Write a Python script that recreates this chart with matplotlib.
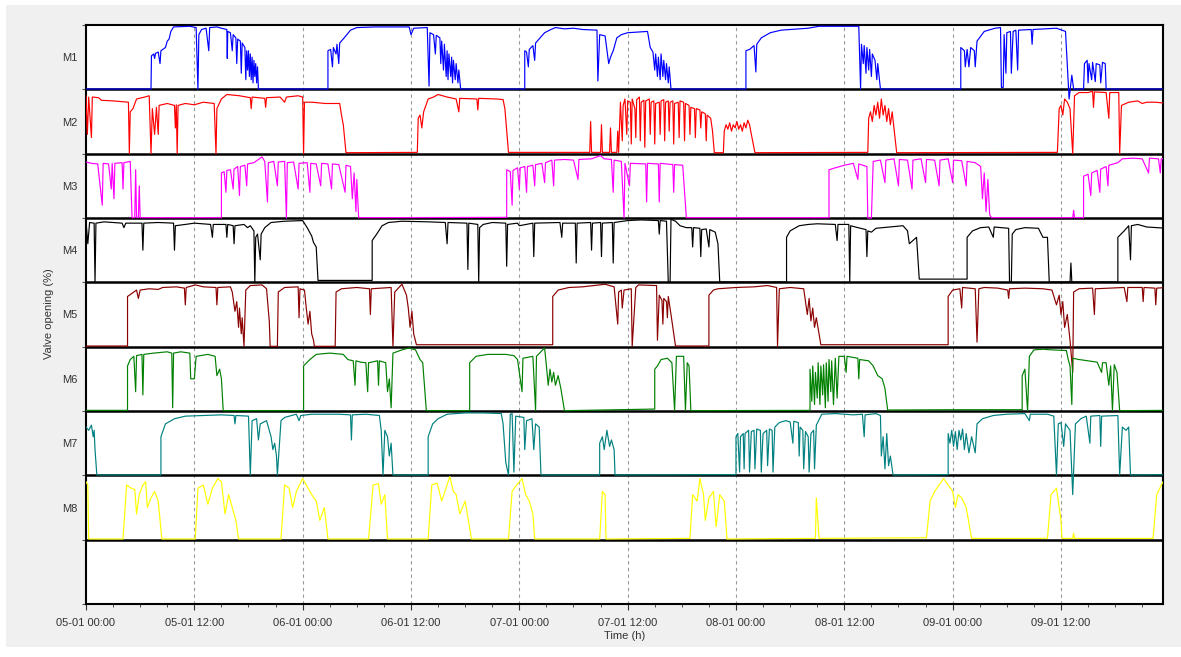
import matplotlib
matplotlib.use("Agg")
import matplotlib.pyplot as plt
from matplotlib.patches import Rectangle
from matplotlib.ticker import MultipleLocator, FixedLocator
import numpy as np

plt.rcParams['font.family'] = ['Liberation Sans', 'DejaVu Sans']

series_names = ["M1", "M2", "M3", "M4", "M5", "M6", "M7", "M8"]
series_colors = ["#0000ff", "#ff0000", "#ff00ff", "#000000", "#8b0000", "#008000", "#008080", "#ffff00"]
tick_labels = ["05-01 00:00", "05-01 12:00", "06-01 00:00", "06-01 12:00", "07-01 00:00",
               "07-01 12:00", "08-01 00:00", "08-01 12:00", "09-01 00:00", "09-01 12:00"]
tick_hours = [0, 12, 24, 36, 48, 60, 72, 84, 96, 108]

# valve opening (%) per valve: (hour, value) pairs
m1 = [(0,0.5),(7.2,0.5),(7.25,52),(7.5,55),(7.6,48),(7.7,56),(8.0,58),(8.2,40),(8.3,60),(8.8,65),(9.0,75),(9.2,78),(9.4,90),(9.7,97),(11.5,98),(12.2,96),(12.4,0),(12.5,85),(12.8,93),(13.3,95),(13.6,60),(13.7,96),(14.5,97),(15.0,95),(15.6,93),(15.65,48),(15.7,90),(16.0,88),(16.2,60),(16.3,85),(16.6,80),(16.7,40),(16.8,78),(17.1,75),(17.2,25),(17.3,72),(17.6,65),(17.7,15),(17.8,60),(17.9,30),(18.0,60),(18.1,20),(18.2,55),(18.3,15),(18.4,50),(18.5,10),(18.6,45),(18.7,20),(18.8,40),(18.9,10),(19.0,35),(19.1,0.5),
      (26.8,0.5),(26.8,60),(27.1,62),(27.3,35),(27.4,65),(27.7,55),(27.8,70),(28.0,40),(28.1,72),(28.6,80),(29.3,92),(30.0,96),(32,97),(35.8,97),(36.0,85),(36.3,95),(37.8,96),(38.0,5),(38.1,88),(38.5,85),(38.7,55),(38.8,84),(39.2,80),(39.3,40),(39.4,75),(39.6,30),(39.7,70),(39.9,20),(40.0,60),(40.1,15),(40.2,55),(40.4,20),(40.5,50),(40.6,10),(40.7,45),(40.9,15),(41.0,40),(41.2,10),(41.3,30),(41.5,0.5),
      (48.6,0.5),(48.6,60),(48.8,58),(49.0,35),(49.1,62),(49.5,68),(49.7,45),(49.8,72),(50.3,80),(50.8,88),(51.5,93),(52,96),(53,94),(54,95),(55,93),(56.6,92),(56.7,13),(56.9,85),(57.5,83),(57.9,40),(58.1,50),(58.4,60),(58.8,80),(59.3,85),(60,88),(62.2,90),(62.5,65),(62.8,58),(63.0,30),(63.1,55),(63.3,20),(63.4,50),(63.6,15),(63.7,55),(63.9,20),(64.0,45),(64.2,15),(64.3,40),(64.5,10),(64.6,35),(64.8,0.5),
      (73.1,0.5),(73.1,60),(73.5,62),(74.0,68),(74.2,27),(74.3,70),(74.8,80),(75.8,88),(77,92),(80,95),(81.2,98),(85.6,98),(85.8,0.5),(85.9,70),(86.1,40),(86.2,68),(86.4,25),(86.5,65),(86.7,30),(86.8,62),(87.0,20),(87.1,55),(87.4,45),(87.6,15),(87.7,40),(88.0,0.5),
      (96.9,0.5),(96.9,65),(97.3,60),(97.4,35),(97.6,62),(97.8,35),(98.0,65),(98.4,60),(98.5,35),(98.7,75),(99.5,90),(100.7,95),(101.3,96),(101.4,3),(101.6,3),(101.7,85),(101.9,25),(102.0,88),(102.4,90),(102.5,25),(102.7,90),(103.0,92),(103.2,30),(103.3,92),(104.7,93),(104.8,70),(104.9,93),(107.5,95),(108.5,90),(108.9,-15),(109.2,22),(109.4,0.5),(110.5,0.5),(110.6,40),(110.9,45),(111.0,10),(111.1,40),(111.4,15),(111.5,42),(111.8,12),(111.9,40),(112.3,38),(112.4,10),(112.6,42),(112.9,40),(113.0,0.5),(119.8,0.5)]

m2 = [(0,90),(0.15,30),(0.3,88),(0.6,25),(0.7,88),(1.4,87),(1.7,83),(3,82),(4.7,80),(4.8,0),(4.9,65),(5.2,70),(5.6,85),(6.5,88),(7.0,90),(7.2,0),(7.35,70),(7.6,30),(7.8,72),(8.0,30),(8.1,75),(9.0,78),(9.8,75),(9.9,40),(10.0,76),(10.1,0),(10.2,75),(11.0,78),(12.0,76),(13.0,80),(14.2,78),(14.4,0),(14.5,70),(15.0,85),(15.6,92),(17,90),(18.2,87),(18.3,70),(18.4,88),(19.8,86),(19.9,72),(20,87),(21.5,88),(22,80),(22.2,88),(23.5,90),(24.0,88),(24.1,0),(24.2,80),(25,80),(26.5,78),(28.1,78),(28.3,60),(28.5,45),(28.8,1.5),
      (36.7,2),(36.8,55),(37.0,60),(37.2,40),(37.4,65),(37.9,85),(38.5,88),(39,92),(40,88),(41,85),(41.3,65),(41.4,86),(43.3,85),(43.4,68),(43.5,86),(45.5,85),(46.2,84),(46.4,70),(46.8,2),
      (55.8,2),(55.9,50),(56.0,2),(57.0,2),(57.1,45),(57.2,2),(58.0,2),(58.1,40),(58.2,2),(58.8,2),(58.9,35),(59.0,2),(59.2,80),(59.4,20),
      (59.5,75),(59.7,85),(59.9,30),(60.0,82),(60.3,80),(60.4,15),(60.5,85),(60.8,70),(60.9,25),(61.0,84),(61.3,88),(61.4,20),(61.5,80),(61.8,83),(61.9,10),(62.0,82),(62.4,85),(62.5,30),(62.6,80),(62.9,82),(63.0,15),(63.1,78),(63.5,80),(63.6,30),(63.7,82),(64.0,84),(64.1,20),(64.2,80),(64.5,82),(64.6,35),(64.7,80),(65.0,82),(65.1,15),(65.2,78),(65.6,80),(65.7,25),(65.8,82),(66.2,80),(66.3,20),(66.4,78),(66.8,75),(66.9,30),(67.0,72),(67.4,70),(67.5,25),(67.6,70),(68.0,68),(68.1,40),(68.2,65),(68.6,62),(68.7,20),(68.8,60),(69.2,55),(69.4,35),(69.6,1.5),
      (70.6,1.5),(70.7,35),(70.9,45),(71.1,38),(71.3,48),(71.5,35),(71.7,45),(71.9,40),(72.1,50),(72.3,38),(72.5,45),(72.7,35),(72.9,48),(73.1,40),(73.3,52),(73.5,45),(73.7,30),(74.1,1.5),
      (86.6,2),(86.7,55),(86.9,65),(87.1,50),(87.3,75),(87.5,60),(87.7,80),(87.9,55),(88.1,85),(88.3,60),(88.5,75),(88.7,50),(88.9,70),(89.1,45),(89.3,65),(89.5,40),(89.8,1.5),
      (107.6,2),(107.8,70),(108.0,75),(108.2,60),(108.4,85),(108.7,80),(109.0,70),(109.3,0),(109.5,90),(110,95),(111,95),(111.5,97),(111.6,72),(111.7,96),(113,95),(113.3,55),(113.4,95),(114.4,95),(114.5,0),(114.7,75),(115.5,80),(116.5,82),(117,78),(117.5,80),(118.5,80),(119.8,78)]

m3 = [(0,87),(0.6,85),(1.3,84),(1.8,20),(1.9,85),(2.5,84),(2.8,45),(2.9,85),(3.1,30),(3.2,85),(4.0,86),(4.1,45),(4.2,86),(4.9,88),(5.1,0.5),(5.4,0.5),(5.5,75),(5.6,0.5),(5.8,0.5),(5.9,50),(6.0,0.5),
      (15.0,0.5),(15.0,70),(15.3,72),(15.5,40),(15.6,74),(16.0,75),(16.3,45),(16.4,76),(16.8,80),(17.0,35),(17.1,80),(17.6,82),(17.8,50),(17.9,84),(18.6,86),(19.5,95),(19.8,88),(20.1,25),(20.2,86),(20.8,88),(21.2,50),(21.3,87),(22.0,88),(22.2,0),(22.3,86),(23.0,87),(23.5,45),(23.6,85),(24.5,86),(24.8,40),(24.9,85),(25.5,84),(26.0,50),(26.1,85),(26.8,84),(27.2,45),(27.3,84),(28.0,83),(28.7,40),(28.8,82),(29.3,80),(29.5,30),(29.7,70),(29.9,10),(30.0,60),(30.2,0.5),
      (46.6,1),(46.6,75),(47.0,72),(47.2,20),(47.3,74),(47.8,78),(48.0,45),(48.1,78),(48.6,80),(48.8,40),(48.9,80),(49.5,82),(49.7,50),(49.8,83),(50.5,85),(50.8,55),(50.9,86),(51.6,90),(51.8,50),(51.9,90),(53,91),(54,90),(54.5,60),(54.6,91),(56,92),(57.0,97),(57.4,92),(58.2,91),(58.4,40),(58.5,90),(59.3,88),(59.6,0),(59.7,85),(60.2,50),(60.3,85),(62.0,84),(62.1,25),(62.2,85),(63.4,84),(63.5,25),(63.6,85),(65.0,83),(65.1,40),(65.2,83),(66.1,82),(66.3,40),(66.5,0.5),
      (82.3,0.5),(82.3,75),(83,78),(84,82),(85,85),(85.5,60),(85.6,84),(86.5,80),(86.6,0),(87.0,0),(87.2,88),(88,90),(88.5,55),(88.6,90),(89.5,92),(90,50),(90.1,91),(91,90),(91.5,45),(91.6,90),(92.5,92),(93,55),(93.1,91),(94,90),(94.5,50),(94.6,90),(95.5,92),(96,55),(96.1,90),(97,89),(97.5,50),(97.6,88),(98.5,86),(99.1,80),(99.3,30),(99.5,70),(99.7,10),(99.9,60),(100.1,5),(100.3,0.5),
      (109.3,0.5),(109.4,12),(109.5,0.5),(110.5,0.5),(110.5,65),(111,68),(111.3,35),(111.4,70),(112,74),(112.3,40),(112.4,76),(113,80),(113.2,50),(113.3,82),(114.3,86),(114.8,92),(116,93),(117,92),(117.7,70),(117.8,93),(118.8,92),(119.0,70),(119.1,92),(119.8,93)]

m4 = [(0,95),(0.2,60),(0.4,93),(0.9,92),(1.0,0),(1.1,92),(2,94),(3,93),(4.0,92),(4.2,85),(4.4,92),(6.2,92),(6.3,50),(6.4,92),(8,93),(9.7,92),(9.8,50),(9.9,88),(11,90),(12,92),(13.8,90),(14.0,70),(14.1,90),(15.5,90),(15.6,70),(15.7,90),(16.3,88),(16.4,60),(16.5,88),(17.5,90),(17.9,85),(18.2,88),(18.6,80),(18.7,0),(18.8,70),(19.0,75),(19.3,35),(19.4,75),(19.8,85),(20.5,93),(22,95),(24.0,96),(24.5,85),(25.0,72),(25.2,62),(25.5,55),(25.7,3),
      (31.7,3),(31.7,65),(32.2,75),(32.8,88),(33.5,93),(35,95),(38,94),(39.8,93),(40.0,60),(40.1,93),(42.2,92),(42.3,20),(42.4,92),(43.4,90),(43.5,0),(43.6,85),(44.0,90),(45,93),(46.5,92),(46.6,25),(46.7,90),(47.8,92),(48,88),(49.5,92),(49.6,40),(49.7,92),(52.5,93),(52.7,70),(52.8,92),(54.2,92),(54.3,30),(54.4,92),(55.9,93),(56.0,50),(56.1,92),(57.0,93),(57.1,40),(57.2,92),(58.3,93),(58.4,30),(58.5,93),(60,96),(61.5,97),(63.4,96),(63.5,75),(63.6,96),(64.3,95),(64.5,0),(64.7,0),(64.8,98),(65.3,95),(65.8,88),(66.5,85),(67.1,85),(67.2,55),(67.3,85),(68.0,84),(68.1,40),(68.2,82),(68.7,83),(69.0,55),(69.1,82),(69.7,78),(70.0,60),(70.2,0.5),
      (77.6,0.5),(77.6,70),(78,80),(79,88),(80,90),(81,91),(83,90),(83.2,65),(83.3,90),(84.5,90),(84.6,0),(84.7,88),(85.5,85),(86.4,82),(86.5,40),(86.6,80),(87,78),(87.5,84),(89,86),(90.5,88),(91.0,80),(91.2,60),(92.0,70),(92.3,5),
      (97.6,5),(97.6,70),(98.2,80),(99.1,85),(100,86),(100.5,70),(100.6,86),(102.2,84),(102.3,0),(102.5,0),(102.6,75),(103.0,82),(104,85),(105.5,84),(106.0,70),(106.5,70),(106.7,0.5),(109.0,0.5),(109.1,30),(109.2,0.5),
      (114.3,0.5),(114.3,70),(115.0,80),(115.5,88),(115.7,35),(115.8,88),(116.5,90),(117.5,86),(119.8,84)]

m5 = [(0,1),(4.6,1),(4.6,78),(5.0,82),(5.6,88),(5.8,75),(6.0,88),(7,90),(8,89),(8.5,92),(10,93),(10.9,91),(11.0,65),(11.1,92),(12.1,96),(13,93),(14.4,92),(14.5,65),(14.6,92),(16.0,93),(16.2,85),(16.5,55),(16.7,70),(16.9,30),(17.0,60),(17.2,20),(17.3,45),(17.5,0.5),(17.7,88),(18.2,95),(19.5,96),(20.0,90),(20.3,40),(20.4,0.5),
      (21.2,0.5),(21.3,85),(22,92),(23.5,93),(23.6,45),(23.7,90),(24.2,88),(24.4,60),(24.6,35),(24.8,55),(25.0,20),(25.2,10),(25.3,0.5),
      (27.6,0.5),(27.7,85),(28.3,90),(30,92),(31.4,90),(31.5,50),(31.6,90),(33.8,92),(34.0,0.5),(34.2,85),(35.0,97),(35.5,80),(35.7,60),(35.9,30),(36.1,55),(36.3,20),(36.6,3),
      (51.7,3),(51.7,78),(52.3,88),(53.5,92),(55,93),(57.5,97),(58.5,93),(58.9,35),(59.0,85),(59.3,88),(59.4,60),(59.6,88),(60.4,90),(60.5,0.5),(60.9,92),(61.2,96),(63.2,95),(63.3,10),(63.5,80),(63.8,72),(63.9,35),(64.0,75),(64.3,70),(64.4,45),(64.5,78),(64.8,50),(65.0,30),(65.3,1),
      (69.0,1),(69.0,80),(69.5,88),(70,90),(72,92),(74,93),(75.5,95),(76.5,92),(76.6,0.5),(76.8,90),(78,92),(79.5,90),(79.7,70),(79.9,50),(80.1,75),(80.3,40),(80.5,60),(80.7,30),(80.9,45),(81.2,20),(81.4,3),
      (95.5,3),(95.5,78),(96.0,88),(96.8,90),(97.0,60),(97.1,92),(98.5,90),(98.7,7),(98.9,90),(99.5,92),(101,91),(102.1,88),(102.2,75),(102.3,90),(104,91),(106,90),(107.0,88),(107.5,65),(107.8,80),(108.0,50),(108.2,70),(108.4,30),(108.7,50),(109.0,10),(109.3,-40),(109.4,85),(110,90),(111.5,91),(111.7,50),(111.8,90),(115,92),(115.3,70),(115.4,92),(117.0,92),(117.1,70),(117.2,92),(118.4,91),(118.5,65),(118.6,91),(119.8,92)]

m6 = [(0,1),(4.6,1),(4.6,70),(4.9,80),(5.3,85),(5.5,30),(5.6,86),(6.2,88),(6.3,25),(6.4,88),(7.5,90),(9.0,92),(9.5,90),(9.6,5),(9.7,90),(10.5,92),(11.5,90),(11.6,50),(12.0,50),(12.2,85),(13.5,88),(14.3,85),(14.5,55),(14.8,65),(15.0,50),(15.2,0.5),
      (24.1,0.5),(24.1,70),(24.8,80),(25.5,88),(27,90),(28.5,88),(29.0,80),(29.6,78),(29.8,40),(29.9,78),(30.4,76),(31.0,75),(31.2,30),(31.3,75),(32.3,78),(32.4,40),(32.5,78),(33.2,75),(33.4,30),(33.6,50),(33.8,5),(34.0,90),(35,95),(35.8,98),(36.5,95),(37.0,80),(37.3,75),(37.7,0.5),
      (42.5,0.5),(42.5,75),(43.2,85),(44.5,88),(46.5,88),(47.4,86),(47.8,80),(48.3,30),(48.4,82),(49.5,85),(49.8,0.5),(49.9,85),(50.8,98),(51.0,70),(51.2,40),(51.4,65),(51.6,45),(51.8,60),(52.0,40),(52.3,55),(52.6,35),(53.0,0.5),(59,2),
      (63.0,3),(63.0,65),(63.3,70),(63.7,80),(64.4,82),(64.9,75),(65.2,0.5),(65.4,85),(66.2,85),(66.4,0.5),(66.6,75),(66.8,70),(67.0,0.5),
      (80.2,1),(80.2,65),(80.4,15),(80.5,70),(80.7,10),(80.8,60),(81.0,20),(81.1,75),(81.3,10),(81.4,70),(81.6,25),(81.7,72),(81.9,5),(82.0,75),(82.2,15),(82.3,80),(82.5,30),(82.6,78),(82.8,10),(83.0,82),(83.2,20),(83.4,85),(84.0,85),(84.2,60),(84.3,85),(85.5,82),(85.6,50),(85.7,80),(86.7,78),(87.2,70),(87.7,55),(88.2,50),(88.5,35),(88.8,1.5),(96,2),
      (103.7,2),(103.7,55),(104.0,65),(104.3,0.5),(104.5,85),(105.0,95),(106,96),(107,95),(108.6,94),(108.8,80),(109.0,70),(109.2,10),(109.3,82),(110,80),(111,78),(112,76),(112.5,60),(112.6,75),(113.0,75),(113.3,40),(113.5,70),(113.7,0.5),(113.9,72),(114.2,60),(114.5,0.5),(119.8,1)]

m7 = [(0,75),(0.3,70),(0.6,78),(0.8,60),(0.9,70),(1.0,40),(1.2,0.5),
      (8.3,0.5),(8.3,60),(8.8,80),(9.8,88),(11,92),(13,93),(15,94),(16.4,93),(16.5,80),(16.6,93),(18.0,92),(18.2,0.5),(18.4,85),(18.9,88),(19.1,55),(19.3,80),(20.0,85),(20.5,60),(20.7,40),(20.9,50),(21.1,30),(21.2,0.5),(21.6,85),(22.0,90),(23.3,95),(23.6,85),(23.8,93),(25,95),(28,95),(29.3,94),(29.4,55),(29.5,94),(31,95),(32.5,93),(32.7,70),(32.9,0.5),(33.1,70),(33.4,60),(33.6,30),(33.8,50),(34.0,0.5),
      (37.9,0.5),(37.9,60),(38.4,80),(39.0,88),(40,95),(42,97),(44,97),(46.0,96),(46.2,80),(46.5,20),(46.8,0.5),(47.0,95),(47.2,96),(47.4,5),(47.6,92),(48.5,90),(48.6,40),(48.8,85),(49.4,88),(49.6,40),(49.8,80),(50.2,75),(50.4,0.5),
      (56.9,0.5),(56.9,50),(57.2,60),(57.4,40),(57.7,70),(58.0,45),(58.2,55),(58.5,40),(58.6,0.5),
      (72.0,1),(72.0,60),(72.2,65),(72.4,5),(72.5,60),(72.8,65),(72.9,10),(73.0,65),(73.4,70),(73.5,5),(73.7,68),(74.0,70),(74.1,10),(74.3,72),(74.7,70),(74.8,5),(75.0,65),(75.4,70),(75.5,15),(75.7,72),(76.0,70),(76.1,5),(76.3,75),(76.8,82),(77.5,85),(78.0,83),(78.3,50),(78.4,84),(78.9,82),(79.0,30),(79.1,75),(79.4,70),(79.5,10),(79.7,68),(80.0,60),(80.1,5),(80.3,65),(80.6,70),(80.7,10),(80.9,78),(81.5,95),(83,96),(84,95),(85,94),(86.0,95),(86.2,60),(86.3,94),(87.5,96),(88.0,93),(88.1,30),(88.3,60),(88.5,10),(88.7,65),(88.9,15),(89.1,30),(89.4,0.5),
      (95.5,1),(95.5,65),(95.7,50),(95.9,70),(96.1,45),(96.3,68),(96.5,40),(96.7,70),(96.9,55),(97.1,72),(97.3,40),(97.5,65),(97.8,35),(98.1,60),(98.5,35),(98.7,80),(99.3,88),(100.5,93),(102,95),(104,96),(104.5,85),(104.6,95),(106.5,95),(107.2,92),(107.5,0.5),(107.7,80),(108.0,82),(108.3,45),(108.5,80),(109.0,70),(109.3,-30),(109.6,80),(110.2,88),(110.8,92),(111.2,50),(111.3,92),(112.3,93),(112.4,45),(112.5,92),(114.3,93),(114.5,0.5),(114.8,75),(115.2,70),(115.5,75),(115.7,0.5),(119.8,1)]

m8 = [(0,90),(0.2,85),(0.3,1),(4.1,1),(4.5,85),(4.8,82),(5.0,80),(5.4,78),(5.6,40),(5.9,70),(6.3,85),(6.6,90),(6.8,50),(7.2,65),(7.6,75),(8.0,60),(8.4,1),
      (12.1,1),(12.4,80),(13.0,85),(13.5,55),(14.0,80),(14.6,95),(15.0,90),(15.4,40),(15.8,70),(16.2,50),(16.6,30),(16.9,1),
      (21.6,1),(22.0,85),(22.5,80),(22.9,50),(23.3,75),(24.0,95),(24.6,80),(25.0,70),(25.5,60),(25.9,30),(26.4,50),(26.8,1),
      (31.3,1),(31.8,85),(32.4,87),(32.7,55),(33.1,70),(33.4,1),
      (37.9,1),(38.3,85),(38.9,88),(39.4,60),(40.3,98),(40.7,75),(41.0,70),(41.4,40),(42.0,60),(42.7,1),
      (46.8,1),(47.2,75),(47.7,85),(48.3,95),(48.7,70),(49.1,60),(49.5,40),(49.7,1),
      (56.9,1),(57.2,75),(57.5,70),(57.6,1),
      (66.9,2),(67.2,70),(67.7,60),(68.0,95),(68.4,70),(68.6,30),(69.0,65),(69.5,75),(69.8,20),(70.2,70),(70.7,60),(71.0,1),
      (80.8,2),(80.9,65),(81.2,2),
      (93.1,3),(93.5,60),(94.0,75),(94.5,85),(95.0,95),(95.5,85),(96.0,75),(96.3,50),(96.6,70),(97.0,65),(97.5,50),(98.1,2),
      (106.5,2),(106.9,70),(107.5,80),(108.0,30),(108.1,2),(109.3,2),(109.4,10),(109.5,2),(118.2,2),(118.6,70),(119.3,90),(119.8,95)]

all_series = [m1, m2, m3, m4, m5, m6, m7, m8]

W, H = 1181, 657
fig = plt.figure(figsize=(W / 100, H / 100), dpi=100)
fig.patch.set_facecolor("white")
fig.patches.append(Rectangle((6 / W, 1 - 647 / H), 1 - 6 / W, (647 - 5) / H,
                             transform=fig.transFigure, facecolor="#f0f0f0",
                             edgecolor="none", zorder=-5))

ax = fig.add_axes([86 / W, 1 - 604 / H, (1163 - 86) / W, (604 - 25) / H])
ax.set_zorder(1)
ax.set_facecolor("white")
n = len(series_names)
ax.set_xlim(0, 119.3)
ax.set_ylim(0, n + 1)

for x in tick_hours[1:]:
    ax.axvline(x, color="#999999", ls=(0, (3, 3)), lw=0.8, zorder=1)
for k in range(1, n + 1):
    ax.axhline(k, color="black", lw=1.8, zorder=2)

for i, (data, col) in enumerate(zip(all_series, series_colors)):
    arr = np.array(data, dtype=float)
    off = n - i
    ax.plot(arr[:, 0], off + arr[:, 1] / 100.0, color=col, lw=0.85, zorder=3)

ax.set_xticks(tick_hours)
ax.set_xticklabels(tick_labels)
ax.xaxis.set_minor_locator(MultipleLocator(3))
ax.tick_params(axis="x", which="major", length=4, labelsize=8, colors="#333333", pad=6)
ax.tick_params(axis="x", which="minor", length=2, color="#333333")

ax.yaxis.set_major_locator(FixedLocator(list(range(0, n + 2))))
ax.set_yticklabels([""] * (n + 2))
ax.set_yticks([n - i + 0.5 for i in range(n)], minor=True)
ax.set_yticklabels(series_names, minor=True)
ax.tick_params(axis="y", which="major", length=3, color="#555555")
ax.tick_params(axis="y", which="minor", length=0, labelsize=8, colors="#333333", pad=6)

for s in ax.spines.values():
    s.set_linewidth(1.5)
    s.set_color("black")

ax.set_xlabel("Time (h)", fontsize=8, color="#333333", labelpad=2)
fig.text(49 / W, 1 - 314 / H, "Valve opening (%)", rotation=90, fontsize=8,
         color="#333333", ha="center", va="center")

fig.savefig("out.png", dpi=100)
